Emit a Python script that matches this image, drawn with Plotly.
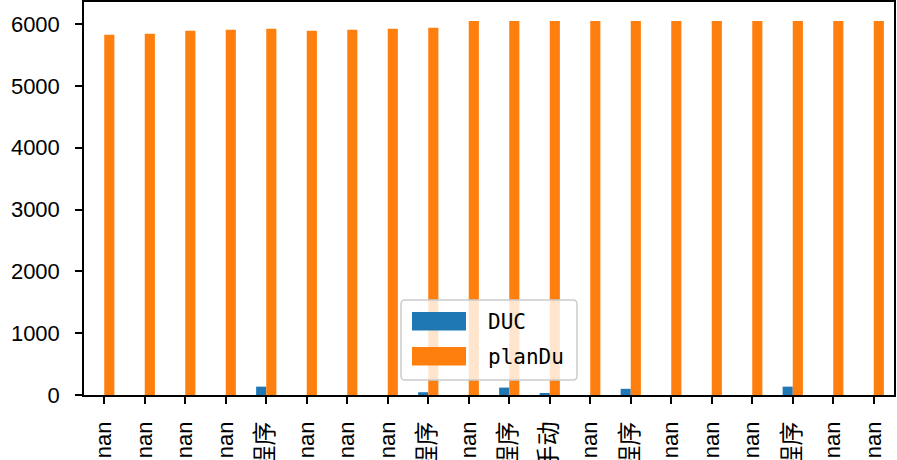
import plotly.graph_objects as go

tick_labels = ["nan", "nan", "nan", "nan", "程序", "nan", "nan", "nan", "程序", "nan",
               "程序", "手动", "nan", "程序", "nan", "nan", "nan", "程序", "nan", "nan"]
positions = list(range(len(tick_labels)))
duc = [0, 0, 0, 0, 135, 0, 0, 0, 45, 0, 120, 25, 0, 100, 0, 0, 0, 135, 0, 0]
plan_du = [5826, 5842, 5890, 5906, 5922, 5890, 5906, 5922, 5938, 6050,
           6050, 6050, 6050, 6050, 6050, 6050, 6050, 6050, 6050, 6050]
series_names = ["DUC", "planDu"]
series_colors = ["#1f77b4", "#ff7f0e"]

W, H = 897, 460
ML, MR, MT, MB = 84, 3, 2, 65
PW, PH = W - ML - MR, H - MT - MB


def px_x(p):
    return (p - ML) / PW


def px_y(p):
    return (H - MB - p) / PH


def fmt_tick(t):
    if t == "nan":
        return t
    return "<span style='font-size:24px'>" + t + "</span>"


fig = go.Figure()
for name, vals, col in zip(series_names, [duc, plan_du], series_colors):
    fig.add_trace(go.Bar(x=positions, y=vals, name=name, marker_color=col,
                         marker_line_width=0, showlegend=False))

# legend box (matplotlib style, drawn in plot-area coordinates)
bx0, bx1, by0, by1, r = 401, 577, 300, 380, 4
path = (f"M{px_x(bx0 + r)},{px_y(by0)} L{px_x(bx1 - r)},{px_y(by0)} "
        f"Q{px_x(bx1)},{px_y(by0)} {px_x(bx1)},{px_y(by0 + r)} "
        f"L{px_x(bx1)},{px_y(by1 - r)} Q{px_x(bx1)},{px_y(by1)} {px_x(bx1 - r)},{px_y(by1)} "
        f"L{px_x(bx0 + r)},{px_y(by1)} Q{px_x(bx0)},{px_y(by1)} {px_x(bx0)},{px_y(by1 - r)} "
        f"L{px_x(bx0)},{px_y(by0 + r)} Q{px_x(bx0)},{px_y(by0)} {px_x(bx0 + r)},{px_y(by0)} Z")
shapes = [dict(type="path", path=path, xref="paper", yref="paper", layer="above",
               fillcolor="rgba(255,255,255,0.8)", line=dict(color="#cccccc", width=1.5))]
annotations = []
row_tops = [312, 347]
for name, col, top in zip(series_names, series_colors, row_tops):
    shapes.append(dict(type="rect", xref="paper", yref="paper", layer="above",
                       x0=px_x(412), x1=px_x(466), y0=px_y(top + 18.5), y1=px_y(top),
                       fillcolor=col, line=dict(width=0)))
    annotations.append(dict(text=name, xref="paper", yref="paper", showarrow=False,
                            x=px_x(486), y=px_y(top + 9.5), xanchor="left", yanchor="middle",
                            font=dict(family="DejaVu Sans Mono, Noto Sans CJK SC", size=21, color="black")))

fig.update_layout(
    width=W, height=H,
    margin=dict(l=ML, r=MR, t=MT, b=MB),
    paper_bgcolor="white", plot_bgcolor="white",
    barmode="group", bargap=0.5, bargroupgap=0,
    showlegend=False,
    font=dict(family="Liberation Sans, Noto Sans CJK SC, sans-serif", size=22, color="black"),
    shapes=shapes, annotations=annotations,
)
fig.update_xaxes(
    range=[-0.5, len(tick_labels) - 0.5],
    tickmode="array", tickvals=positions, ticktext=[fmt_tick(t) for t in tick_labels],
    tickangle=-90, ticks="outside", ticklen=7, tickwidth=1.5, tickcolor="black",
    ticklabelstandoff=9,
    showline=True, linecolor="black", linewidth=1.5, mirror=True,
    showgrid=False, zeroline=False, automargin=False,
)
fig.update_yaxes(
    range=[0, 6356], tickvals=[0, 1000, 2000, 3000, 4000, 5000, 6000],
    ticks="outside", ticklen=7, tickwidth=1.5, tickcolor="black",
    ticklabelstandoff=11,
    showline=True, linecolor="black", linewidth=1.5, mirror=True,
    showgrid=False, zeroline=False, automargin=False,
)

fig.write_html("out.html", config={"displayModeBar": False},
               post_script="document.body.style.margin='0';document.body.style.overflow='hidden';")
